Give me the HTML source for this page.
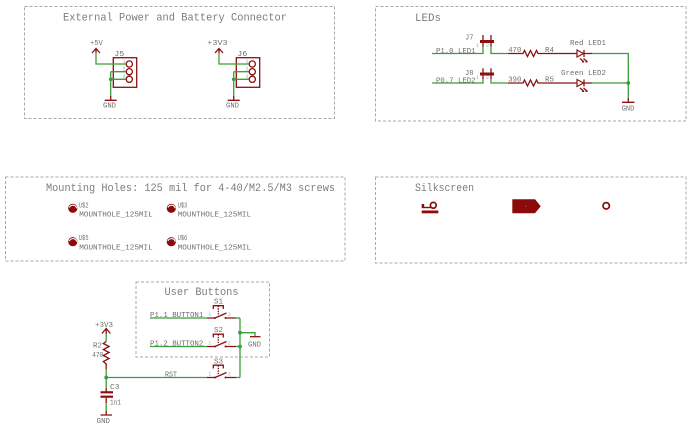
<!DOCTYPE html>
<html><head><meta charset="utf-8"><style>
html,body{margin:0;padding:0;background:#fff;}
svg{display:block}
.f{fill:none;stroke:#a8a8a8;stroke-width:1;stroke-dasharray:3 2}
.w{stroke:#3a9e3a;stroke-width:1.3;fill:none}
.r{stroke:#8b1111;stroke-width:1.3;fill:none}
.T{font-family:"Liberation Mono",monospace;fill:#7c7c7c;font-size:11px}
.t{font-family:"Liberation Mono",monospace;fill:#6e6e6e;font-size:7px}
.p{font-family:"Liberation Mono",monospace;fill:#8fb2d6;font-size:5px}
.d{fill:#3a9e3a}
</style></head><body>
<svg width="692" height="429" viewBox="0 0 692 429" xmlns="http://www.w3.org/2000/svg">
<!-- frames -->
<rect class="f" x="24.5" y="6.5" width="310" height="112"/>
<rect class="f" x="375.5" y="6.5" width="310.5" height="114.5"/>
<rect class="f" x="5.5" y="177" width="339.5" height="84"/>
<rect class="f" x="375.5" y="177" width="310.5" height="86"/>
<rect class="f" x="136" y="282" width="133.5" height="75"/>

<!-- titles -->
<text class="T" x="63" y="20.7" textLength="224" lengthAdjust="spacingAndGlyphs">External Power and Battery Connector</text>
<text class="T" x="415" y="21" textLength="26" lengthAdjust="spacingAndGlyphs">LEDs</text>
<text class="T" x="46" y="191" textLength="289" lengthAdjust="spacingAndGlyphs">Mounting Holes: 125 mil for 4-40/M2.5/M3 screws</text>
<text class="T" x="415" y="191" textLength="59" lengthAdjust="spacingAndGlyphs">Silkscreen</text>
<text class="T" x="164.5" y="295" textLength="74" lengthAdjust="spacingAndGlyphs">User Buttons</text>

<!-- J5 / J6 connectors -->
<g id="conn">
<rect class="r" x="113.3" y="57.7" width="23.4" height="29.6"/>
<circle class="r" cx="129.3" cy="64" r="3.1" stroke-width="1.2"/>
<circle class="r" cx="129.3" cy="71.7" r="3.1" stroke-width="1.2"/>
<circle class="r" cx="129.3" cy="79.3" r="3.1" stroke-width="1.2"/>
<path class="r" d="M92,53 L96,48.5 L100,53 M96,48.5 V53"/>
<path class="w" d="M96,53 V64 H125.5 M110.7,71.7 H125.5 M110.7,71.7 V79.3 H125.5 M110.7,79.3 V96"/>
<path class="r" d="M110.7,96 V100.3 M104.7,100.3 H116.7"/>
<circle class="d" cx="110.7" cy="79.3" r="1.8"/>
<text class="p" x="122.5" y="63">1</text>
<text class="p" x="122.5" y="70.7">2</text>
<text class="p" x="122.5" y="78.2">3</text>
</g>
<use href="#conn" transform="translate(123,0)"/>
<text class="t" x="90" y="45" textLength="12.7" lengthAdjust="spacingAndGlyphs">+5V</text>
<text class="t" x="114.3" y="56" textLength="10" lengthAdjust="spacingAndGlyphs">J5</text>
<text class="t" x="103" y="107.5" textLength="13" lengthAdjust="spacingAndGlyphs">GND</text>
<text class="t" x="207.3" y="45" textLength="20.3" lengthAdjust="spacingAndGlyphs">+3V3</text>
<text class="t" x="237.3" y="56" textLength="10" lengthAdjust="spacingAndGlyphs">J6</text>
<text class="t" x="226" y="107.5" textLength="13" lengthAdjust="spacingAndGlyphs">GND</text>

<!-- LEDs -->
<!-- row 1 -->
<path class="w" d="M432,53.5 H483 V46.5 M491,46.5 V53.5 H508"/>
<path class="r" d="M483,35 V46.5 M491,35 V46.5"/>
<rect x="480" y="40" width="14" height="3" fill="#8b1111"/>
<path class="r" d="M508,53.5 H523 L524.5,50.5 L527.5,56.5 L530.5,50.5 L533.5,56.5 L536.5,50.5 L538,53.5 H577"/>
<path d="M577,50 L583.5,53.5 L577,57 Z" fill="none" stroke="#8b1111" stroke-width="1.2"/>
<path class="r" d="M584,50 V57 M584,53.5 H592"/>
<path class="r" d="M580,58.5 L584,62 M583.5,58.5 L587.5,62 M584,62 l-2,-0.3 M587.5,62 l-2,-0.3" stroke-width="1"/>
<path class="w" d="M592,53.5 H628.3 V98"/>
<!-- row 2 -->
<path class="w" d="M432,83 H483 V79 M491,79 V83 H508"/>
<path class="r" d="M483,68.3 V79 M491,68.3 V79"/>
<rect x="480" y="72.5" width="14" height="3" fill="#8b1111"/>
<path class="r" d="M508,83 H523 L524.5,80 L527.5,86 L530.5,80 L533.5,86 L536.5,80 L538,83 H577"/>
<path d="M577,79.5 L583.5,83 L577,86.5 Z" fill="none" stroke="#8b1111" stroke-width="1.2"/>
<path class="r" d="M584,79.5 V86.5 M584,83 H592"/>
<path class="r" d="M580,88 L584,91.5 M583.5,88 L587.5,91.5 M584,91.5 l-2,-0.3 M587.5,91.5 l-2,-0.3" stroke-width="1"/>
<path class="w" d="M592,83 H628.3"/>
<circle class="d" cx="628.3" cy="83" r="1.9"/>
<path class="r" d="M628.3,98 V102.3 M622,102.3 H634.5"/>
<text class="p" x="476" y="47">1</text><text class="p" x="486" y="47">2</text>
<text class="p" x="476" y="79">1</text><text class="p" x="486" y="79">2</text>
<text class="t" x="465" y="39.5" textLength="8.5" lengthAdjust="spacingAndGlyphs">J7</text>
<text class="t" x="465" y="75" textLength="8.5" lengthAdjust="spacingAndGlyphs">J8</text>
<text class="t" x="436" y="53" textLength="39.5" lengthAdjust="spacingAndGlyphs">P1.0_LED1</text>
<text class="t" x="436" y="82.5" textLength="39.5" lengthAdjust="spacingAndGlyphs">P0.7_LED2</text>
<text class="t" x="508.3" y="52" textLength="13" lengthAdjust="spacingAndGlyphs">470</text>
<text class="t" x="508.3" y="81.5" textLength="13" lengthAdjust="spacingAndGlyphs">390</text>
<text class="t" x="545" y="52" textLength="9" lengthAdjust="spacingAndGlyphs">R4</text>
<text class="t" x="545" y="81.5" textLength="9" lengthAdjust="spacingAndGlyphs">R5</text>
<text class="t" x="570" y="45" textLength="36" lengthAdjust="spacingAndGlyphs">Red LED1</text>
<text class="t" x="561" y="75" textLength="45" lengthAdjust="spacingAndGlyphs">Green LED2</text>
<text class="t" x="621.7" y="110.7" textLength="12.6" lengthAdjust="spacingAndGlyphs">GND</text>

<!-- Mounting holes -->
<g id="mh">
<circle cx="72.8" cy="208.3" r="4.6" fill="#8b0a0a"/>
<path d="M69.3,207.5 Q71,204.8 74,205.3 Q76.3,206 76.6,208.3" fill="none" stroke="#fff" stroke-width="1.1"/>
</g>
<use href="#mh" transform="translate(98.5,0)"/>
<use href="#mh" transform="translate(0,33.4)"/>
<use href="#mh" transform="translate(98.5,33.4)"/>
<text class="t" x="79" y="207.5" textLength="9.5" lengthAdjust="spacingAndGlyphs">U$2</text>
<text class="t" x="79.3" y="216.5" textLength="73.4" lengthAdjust="spacingAndGlyphs">MOUNTHOLE_125MIL</text>
<text class="t" x="177.7" y="207.5" textLength="9.5" lengthAdjust="spacingAndGlyphs">U$3</text>
<text class="t" x="177.7" y="216.5" textLength="73.4" lengthAdjust="spacingAndGlyphs">MOUNTHOLE_125MIL</text>
<text class="t" x="79" y="240" textLength="9.5" lengthAdjust="spacingAndGlyphs">U$5</text>
<text class="t" x="79.3" y="249.5" textLength="73.4" lengthAdjust="spacingAndGlyphs">MOUNTHOLE_125MIL</text>
<text class="t" x="177.7" y="240" textLength="9.5" lengthAdjust="spacingAndGlyphs">U$6</text>
<text class="t" x="177.7" y="249.5" textLength="73.4" lengthAdjust="spacingAndGlyphs">MOUNTHOLE_125MIL</text>

<!-- Silkscreen -->
<circle cx="433.3" cy="205.3" r="2.9" fill="none" stroke="#8b0a0a" stroke-width="1.7"/>
<path d="M421.7,207.5 H430.5" stroke="#8b0a0a" stroke-width="1.4"/>
<rect x="421.7" y="204" width="2.5" height="3" fill="#8b0a0a"/>
<rect x="421.7" y="210.5" width="16.6" height="2.8" fill="#8b0a0a"/>
<polygon points="512.3,199.3 535,199.3 540.7,206.3 535,213.3 512.3,213.3" fill="#8b0a0a"/>
<circle cx="526" cy="206.3" r="0.5" fill="#d88"/>
<circle cx="606.2" cy="205.8" r="3.2" fill="none" stroke="#8b0a0a" stroke-width="1.7"/>

<!-- User Buttons: left network -->
<path class="r" d="M102,333.5 L106.2,328.5 L110.4,333.5 M106.2,328.5 V334"/>
<path class="w" d="M106.2,334 V341.5"/>
<path class="r" d="M106.2,341.5 L103.3,343.5 L109.1,346.5 L103.3,349.5 L109.1,352.5 L103.3,355.5 L109.1,358.5 L103.3,361.5 L106.2,364 V369"/>
<path class="w" d="M106.2,369 V388 M106.2,377.5 H206.7"/>
<circle class="d" cx="106.2" cy="377.5" r="1.9"/>
<path class="r" d="M106.2,388 V392"/>
<rect x="100.5" y="391.2" width="12.5" height="2.2" fill="#8b1111"/>
<rect x="100.5" y="395.6" width="12.5" height="2.2" fill="#8b1111"/>
<path class="r" d="M106.2,397.8 V403"/>
<path class="w" d="M106.2,403 V411"/>
<path class="r" d="M106.2,411 V415 M100.5,415 H112"/>
<text class="t" x="95" y="327" textLength="18" lengthAdjust="spacingAndGlyphs">+3V3</text>
<text class="t" x="93" y="347.5" textLength="9" lengthAdjust="spacingAndGlyphs">R2</text>
<text class="t" x="92.3" y="357" textLength="11" lengthAdjust="spacingAndGlyphs">470</text>
<text class="t" x="110" y="389" textLength="9.5" lengthAdjust="spacingAndGlyphs">C3</text>
<text class="t" x="110" y="404.5" textLength="11" lengthAdjust="spacingAndGlyphs">1n1</text>
<text class="t" x="96.7" y="423" textLength="13.3" lengthAdjust="spacingAndGlyphs">GND</text>

<!-- switches -->
<g id="sw">
<path class="r" d="M213.3,309 V305.7 H223.3 V309" stroke-width="1.1"/>
<path class="r" d="M218.3,305.7 V314.5" stroke-width="1" stroke-dasharray="1.5 1"/>
<path class="r" d="M206.7,318 H215 M215,318 L226.5,313 M225,318 H236" stroke-width="1.2"/>
<circle cx="215" cy="318" r="1" fill="#8b1111"/>
<circle cx="225.5" cy="318" r="1" fill="#8b1111"/>
<path class="w" d="M236,318 H240"/>
<text class="p" x="208.3" y="316" fill="#7d6a6a">1</text>
<text class="p" x="227.7" y="316">2</text>
</g>
<use href="#sw" transform="translate(0,28.5)"/>
<use href="#sw" transform="translate(0,59.5)"/>
<path class="w" d="M150,318 H206.7 M150,346.5 H206.7 M240,318 V377.5 M240,332.7 H255 V336.5"/>
<circle class="d" cx="240" cy="332.7" r="1.9"/>
<circle class="d" cx="240" cy="346.5" r="1.9"/>
<path class="r" d="M250,336.7 H260.5"/>
<text class="t" x="214" y="303.3" textLength="9" lengthAdjust="spacingAndGlyphs">S1</text>
<text class="t" x="214" y="332" textLength="9" lengthAdjust="spacingAndGlyphs">S2</text>
<text class="t" x="214" y="363.5" textLength="9" lengthAdjust="spacingAndGlyphs">S3</text>
<text class="t" x="150" y="317" textLength="53.3" lengthAdjust="spacingAndGlyphs">P1.1_BUTTON1</text>
<text class="t" x="150" y="345.7" textLength="53.3" lengthAdjust="spacingAndGlyphs">P1.2_BUTTON2</text>
<text class="t" x="165" y="376.5" textLength="12" lengthAdjust="spacingAndGlyphs">RST</text>
<text class="t" x="248" y="346.7" textLength="13" lengthAdjust="spacingAndGlyphs">GND</text>
</svg>
</body></html>
